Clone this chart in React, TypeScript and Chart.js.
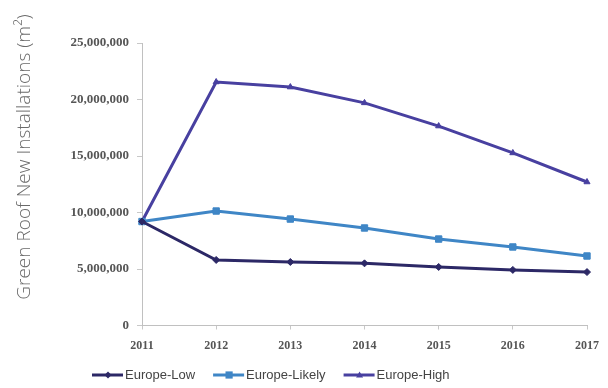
import React, { useEffect, useRef } from "react";
import { Chart, registerables } from "chart.js";

Chart.register(...registerables);

const years = ["2011", "2012", "2013", "2014", "2015", "2016", "2017"];
const europeLow = [9200000, 5800000, 5620000, 5500000, 5180000, 4920000, 4730000];
const europeLikely = [9200000, 10130000, 9420000, 8630000, 7650000, 6950000, 6150000];
const europeHigh = [9200000, 21550000, 21100000, 19700000, 17650000, 15270000, 12700000];
const yTicks = [0, 5000000, 10000000, 15000000, 20000000, 25000000];
const yTitle = "Green Roof New Installations (m\u00b2)";

const seriesNames = ["Europe-Low", "Europe-Likely", "Europe-High"];
const seriesColors = ["#2c2866", "#3f86c6", "#4840a0"];
const seriesMarkers = ["rectRot", "rect", "triangle"];
const seriesMarkerSizes = [3.5, 4.5, 3.5];

// Rotated axis title on the far left of the canvas
const axisTitlePlugin = {
  id: "axisTitle",
  afterDraw(chart: any) {
    const ctx = chart.ctx;
    ctx.save();
    ctx.translate(25, 157);
    ctx.rotate(-Math.PI / 2);
    ctx.font = "300 19px 'Open Sans', Lato, sans-serif";
    ctx.fillStyle = "#6a6a6a";
    ctx.textAlign = "center";
    ctx.textBaseline = "middle";
    ctx.fillText(yTitle, 0, 0);
    ctx.restore();
  },
};

function drawMarker(ctx: CanvasRenderingContext2D, style: string, r: number, cx: number, cy: number) {
  ctx.beginPath();
  if (style === "rect") {
    ctx.rect(cx - r * 0.8, cy - r * 0.8, r * 1.6, r * 1.6);
  } else if (style === "rectRot") {
    ctx.moveTo(cx, cy - r);
    ctx.lineTo(cx + r, cy);
    ctx.lineTo(cx, cy + r);
    ctx.lineTo(cx - r, cy);
    ctx.closePath();
  } else {
    ctx.moveTo(cx, cy - r);
    ctx.lineTo(cx + r, cy + r * 0.7);
    ctx.lineTo(cx - r, cy + r * 0.7);
    ctx.closePath();
  }
  ctx.fill();
}

// Legend row: short line with the series marker, then its name
const lineLegendPlugin = {
  id: "lineLegend",
  afterDraw(chart: any) {
    const ctx = chart.ctx;
    ctx.save();
    ctx.font = "13px 'Liberation Sans', Arial, sans-serif";
    ctx.textBaseline = "middle";
    let x = 92;
    const y = 375;
    chart.data.datasets.forEach((ds: any) => {
      ctx.strokeStyle = ds.borderColor;
      ctx.lineWidth = 3;
      ctx.beginPath();
      ctx.moveTo(x, y);
      ctx.lineTo(x + 31, y);
      ctx.stroke();
      ctx.fillStyle = ds.borderColor;
      drawMarker(ctx, ds.pointStyle, ds.pointRadius, x + 16, y);
      ctx.fillStyle = "#444444";
      ctx.textAlign = "left";
      ctx.fillText(ds.label, x + 33, y);
      x += 33 + ctx.measureText(ds.label).width + 18;
    });
    ctx.restore();
  },
};

export default function App() {
  const canvasRef = useRef<HTMLCanvasElement>(null);

  useEffect(() => {
    if (!canvasRef.current) return;
    const values = [europeLow, europeLikely, europeHigh];
    const chart = new Chart(canvasRef.current, {
      type: "line",
      data: {
        labels: years,
        datasets: values.map((data, i) => ({
          label: seriesNames[i],
          data,
          borderColor: seriesColors[i],
          backgroundColor: seriesColors[i],
          borderWidth: 3,
          pointStyle: seriesMarkers[i] as any,
          pointRadius: seriesMarkerSizes[i],
          pointBorderWidth: 1,
          tension: 0,
        })),
      },
      options: {
        responsive: false,
        animation: false,
        layout: { padding: { left: 0, top: 43, right: 16, bottom: 0 } },
        plugins: {
          legend: { display: false },
          tooltip: { enabled: false },
        },
        scales: {
          x: {
            offset: false,
            grid: { drawOnChartArea: false, color: "#c8c8c8", tickLength: 4 },
            border: { color: "#c0c0c0", width: 1 },
            ticks: {
              color: "#555555",
              font: { family: "'Liberation Serif', serif", size: 12, weight: "bold" },
              padding: 9,
              maxRotation: 0,
            },
            afterFit(scale: any) {
              scale.height = 62.5;
            },
          },
          y: {
            min: 0,
            max: 25000000,
            afterBuildTicks(scale: any) {
              scale.ticks = yTicks.map((v) => ({ value: v }));
            },
            grid: { drawOnChartArea: false, color: "#c8c8c8", tickLength: 5 },
            border: { color: "#c0c0c0", width: 1 },
            ticks: {
              color: "#555555",
              font: { family: "'Liberation Serif', serif", size: 13, weight: "bold" },
              padding: 8,
              callback: (v: any) => Number(v).toLocaleString("en-US"),
            },
            afterFit(scale: any) {
              scale.width = 142;
            },
          },
        },
      },
      plugins: [axisTitlePlugin, lineLegendPlugin],
    });
    return () => chart.destroy();
  }, []);

  return (
    <div style={{ position: "fixed", left: 0, top: 0, width: 608, height: 388, background: "#fff" }}>
      <canvas ref={canvasRef} width={608} height={388} style={{ display: "block" }} />
    </div>
  );
}
